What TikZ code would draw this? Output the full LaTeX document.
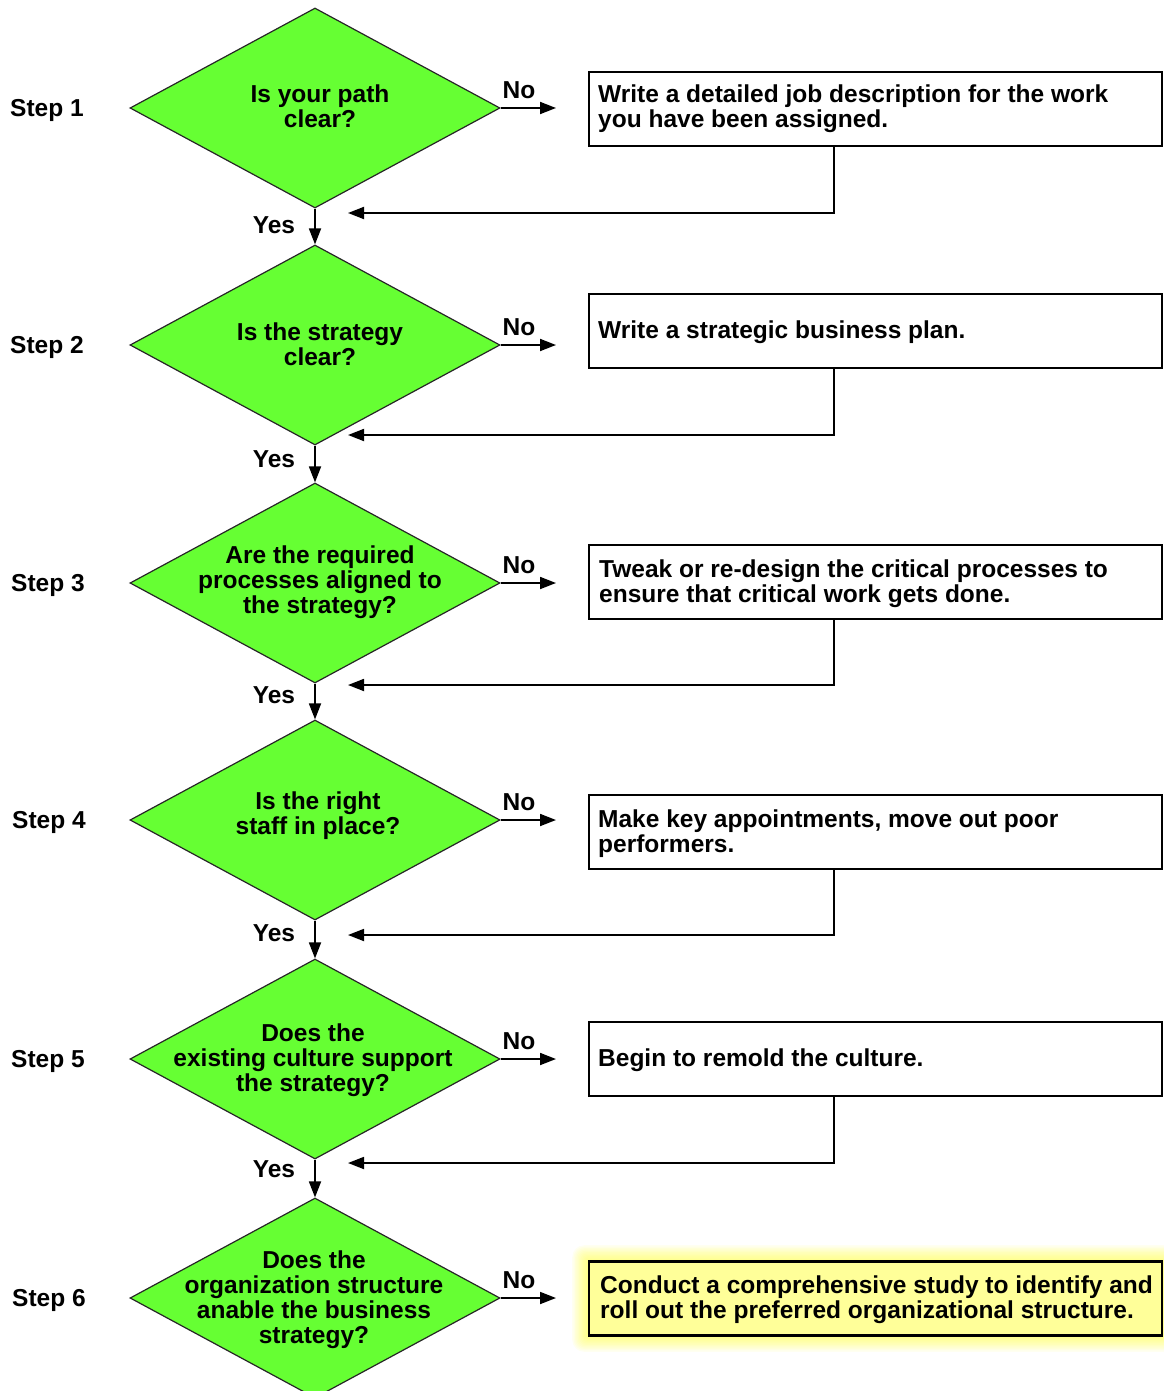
\documentclass[tikz,border=0pt]{standalone}
\usepackage{fontspec}
\setmainfont{Liberation Sans}
\usetikzlibrary{shapes.geometric,arrows.meta,calc}
\definecolor{dgreen}{HTML}{66FF33}
\definecolor{pyellow}{HTML}{FFFF99}
\definecolor{glowy}{HTML}{FFFF40}
\begin{document}
\begin{tikzpicture}[x=1pt,y=-1pt,
  txt/.style={font=\bfseries\fontsize{24.5}{25}\selectfont, inner sep=0pt},
  dec/.style={diamond, draw=black!85, line width=1.2pt, fill=dgreen, minimum width=370pt, minimum height=200pt, inner sep=0pt},
  dtext/.style={txt, align=center},
  actbox/.style={draw, line width=2pt, minimum width=573pt, minimum height=74pt, inner sep=0pt},
  btext/.style={txt, align=left, anchor=west},
  arr/.style={line width=1.8pt, -{Triangle[length=16pt,width=12pt]}}
]
\useasboundingbox (0,0) rectangle (1163,1391);
\fill[white] (0,0) rectangle (1163,1391);

% glow behind last box
\foreach \i in {1,...,12}{
  \fill[glowy, opacity=0.07, rounded corners=\i pt] (589-1.4*\i,1262-1.4*\i) rectangle (1162+1.4*\i,1335+1.4*\i);
}

% diamonds
\node[dec] (d1) at (315,108) {};
\node[dec] (d2) at (315,345) {};
\node[dec] (d3) at (315,583) {};
\node[dec] (d4) at (315,820) {};
\node[dec] (d5) at (315,1059) {};
\node[dec] (d6) at (315,1298) {};

\node[dtext] (q1) at (320,106) {Is your path\\clear?};
\node[dtext] (q2) at (320,344) {Is the strategy\\clear?};
\node[dtext] (q3) at (320,582) {Are the required\\processes aligned to\\the strategy?};
\node[dtext] (q4) at (318,816) {Is the right\\staff in place?};
\node[dtext] (q5) at (313,1060) {Does the\\existing culture support\\the strategy?};
\node[dtext] (q6) at (314,1300) {Does the\\organization structure\\anable the business\\strategy?};

% step labels
\node[txt] (s1) at (47,110) {Step 1};
\node[txt] (s2) at (47,347) {Step 2};
\node[txt] (s3) at (48,585) {Step 3};
\node[txt] (s4) at (49,822) {Step 4};
\node[txt] (s5) at (48,1061) {Step 5};
\node[txt] (s6) at (49,1300) {Step 6};

% action boxes
\node[actbox] (b1) at (875.5,109) {};
\node[actbox] (b2) at (875.5,331) {};
\node[actbox] (b3) at (875.5,582) {};
\node[actbox] (b4) at (875.5,831.5) {};
\node[actbox] (b5) at (875.5,1059) {};
\node[actbox, fill=pyellow, line width=2.4pt] (b6) at (875.5,1298.5) {};

\node[btext] (t1) at (598,109) {Write a detailed job description for the work\\you have been assigned.};
\node[btext] (t2) at (598,332) {Write a strategic business plan.};
\node[btext] (t3) at (599,584) {Tweak or re-design the critical processes to\\ensure that critical work gets done.};
\node[btext] (t4) at (598,834) {Make key appointments, move out poor\\performers.};
\node[btext] (t5) at (598,1060) {Begin to remold the culture.};
\node[btext] (t6) at (600,1300) {Conduct a comprehensive study to identify and\\roll out the preferred organizational structure.};

% No branches
\foreach \k/\y in {1/108,2/345,3/583,4/820,5/1059,6/1298}{
  \coordinate (n\k) at (556,\y);
  \draw[arr] (d\k.east) -- (n\k);
  \node[txt] (no\k) at (519,\y-18) {No};
}

% Yes branches
\draw[arr] (d1.south) -- (d2.north);
\draw[arr] (d2.south) -- (d3.north);
\draw[arr] (d3.south) -- (d4.north);
\draw[arr] (d4.south) -- (d5.north);
\draw[arr] (d5.south) -- (d6.north);
\node[txt] (y1) at (274,225) {Yes};
\node[txt] (y2) at (274,459) {Yes};
\node[txt] (y3) at (274,695) {Yes};
\node[txt] (y4) at (274,933) {Yes};
\node[txt] (y5) at (274,1169) {Yes};

% return lines
\coordinate (r1) at (348,213);
\coordinate (r2) at (348,435);
\coordinate (r3) at (348,685);
\coordinate (r4) at (348,935);
\coordinate (r5) at (348,1163);
\foreach \k in {1,...,5}{
  \draw[arr] ($(b\k.south west)+(246,0)$) |- (r\k);
}
\end{tikzpicture}
\end{document}
